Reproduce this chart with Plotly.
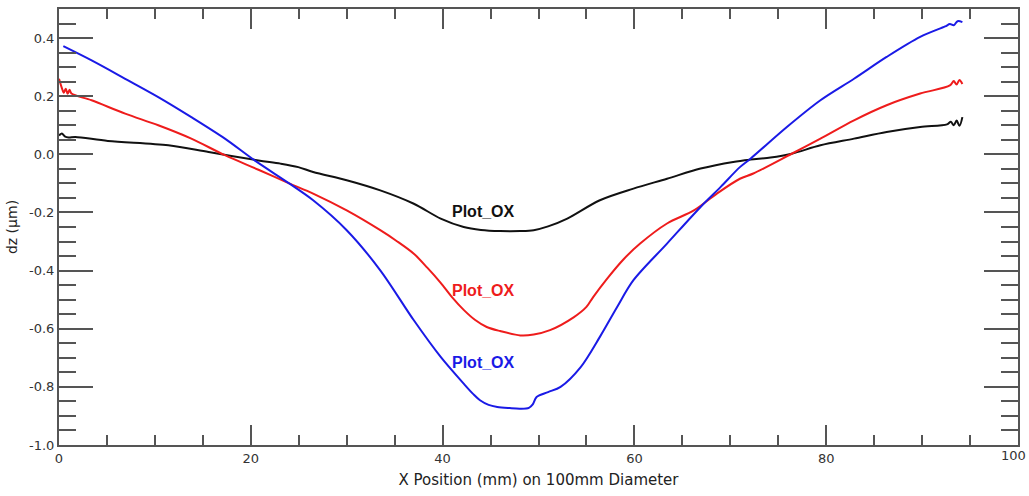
import plotly.graph_objects as go

# ---- data ----
black_x = [0.0, 0.3, 0.6, 1.0, 1.7, 5.1, 11.4, 15.6, 20.8, 23.1, 24.95, 26.5, 30.0, 33.5, 37.0, 39.8,
           42.2, 44.0, 46.0, 48.1, 49.5, 51.0, 53.0, 56.4, 59.9, 63.4, 66.9, 70.3, 72.1, 74.2, 76.4,
           79.4, 82.9, 86.3, 89.8, 92.6, 93.0, 93.3, 93.6, 93.9, 94.2]
black_y = [0.065, 0.072, 0.062, 0.058, 0.060, 0.046, 0.031, 0.008, -0.021, -0.032, -0.044, -0.061,
           -0.089, -0.124, -0.170, -0.221, -0.250, -0.260, -0.264, -0.264, -0.261, -0.248, -0.221,
           -0.158, -0.118, -0.084, -0.049, -0.026, -0.018, -0.011, 0.002, 0.031, 0.054, 0.077, 0.094,
           0.103, 0.112, 0.100, 0.116, 0.098, 0.128]

red_x = [0.0, 0.3, 0.5, 0.7, 0.9, 1.1, 1.3, 3.4, 6.9, 10.35, 13.8, 17.3, 20.8, 24.0, 26.5, 30.0,
         33.5, 35.2, 37.0, 38.4, 39.8, 41.0, 42.2, 43.4, 44.6, 46.0, 48.1, 49.5, 51.2, 53.7, 55.0,
         55.7, 57.1, 58.9, 60.6, 63.4, 66.2, 68.6, 71.0, 72.4, 76.4, 79.4, 82.9, 86.3, 89.8, 92.9,
         93.3, 93.6, 93.9, 94.2]
red_y = [0.26, 0.228, 0.212, 0.226, 0.208, 0.222, 0.209, 0.186, 0.140, 0.100, 0.054, -0.003, -0.053,
         -0.100, -0.135, -0.193, -0.261, -0.298, -0.342, -0.390, -0.442, -0.492, -0.535, -0.570,
         -0.594, -0.608, -0.623, -0.620, -0.605, -0.560, -0.525, -0.491, -0.430, -0.360, -0.307,
         -0.238, -0.193, -0.135, -0.084, -0.066, 0.002, 0.054, 0.117, 0.169, 0.209, 0.237, 0.252,
         0.240, 0.256, 0.242]

blue_x = [0.45, 3.4, 6.9, 10.35, 13.8, 17.3, 20.4, 24.0, 26.5, 30.0, 33.5, 37.0, 39.8, 42.2, 43.2,
          43.9, 44.8, 45.7, 47.0, 48.1, 49.0, 49.4, 49.8, 51.0, 52.3, 54.4, 56.4, 58.2, 59.9, 63.4,
          66.9, 69.0, 71.0, 72.1, 75.9, 79.4, 82.9, 86.3, 89.8, 92.4, 92.9, 93.3, 93.7, 94.2]
blue_y = [0.372, 0.323, 0.260, 0.197, 0.128, 0.054, -0.021, -0.100, -0.158, -0.261, -0.399, -0.571,
          -0.697, -0.789, -0.825, -0.846, -0.862, -0.869, -0.873, -0.875, -0.872, -0.860, -0.835,
          -0.818, -0.800, -0.732, -0.628, -0.525, -0.433, -0.307, -0.181, -0.112, -0.044, -0.015,
          0.094, 0.186, 0.260, 0.335, 0.404, 0.440, 0.448, 0.444, 0.458, 0.455]

x_tickvals = [0, 20, 40, 60, 80, 100]
x_ticktext = ["0", "20", "40", "60", "80", ""]
x_last_label = "100"
y_tickvals = [-1.0, -0.8, -0.6, -0.4, -0.2, 0.0, 0.2, 0.4]
y_ticktext = ["-1.0", "-0.8", "-0.6", "-0.4", "-0.2", "0.0", "0.2", "0.4"]

labels = ["Plot_OX", "Plot_OX", "Plot_OX"]
label_x = [44.3, 44.3, 44.3]
label_y = [-0.196, -0.468, -0.716]

colors = ["#111111", "#ee1c1c", "#1a1ae6"]
tick_font = dict(family="DejaVu Sans", size=13, color="#333333")

fig = go.Figure()
for xs, ys, c in [(black_x, black_y, colors[0]), (red_x, red_y, colors[1]), (blue_x, blue_y, colors[2])]:
    fig.add_trace(go.Scatter(x=xs, y=ys, mode="lines",
                             line=dict(color=c, width=2, shape="spline", smoothing=0.9),
                             showlegend=False, hoverinfo="skip"))

for t, lx, ly, c in zip(labels, label_x, label_y, colors):
    fig.add_annotation(x=lx, y=ly, text="<b>%s</b>" % t, showarrow=False,
                       font=dict(family="Liberation Sans, Arial", size=16, color=c),
                       xanchor="center", yanchor="middle")

# last x tick label, nudged left so it stays inside the page
fig.add_annotation(x=x_tickvals[-1], xref="x", y=0, yref="paper", text=x_last_label,
                   showarrow=False, xanchor="center", yanchor="top", xshift=-5, yshift=-1,
                   font=tick_font)

axis_col = "#555555"
fig.update_xaxes(range=[0, 100], tickmode="array", tickvals=x_tickvals, ticktext=x_ticktext,
                 ticks="inside", ticklen=20, tickwidth=1.5, tickcolor=axis_col,
                 minor=dict(dtick=5, tick0=0, ticks="inside", ticklen=10, tickwidth=1.5, tickcolor=axis_col),
                 showline=True, linecolor=axis_col, linewidth=2, mirror="allticks",
                 showgrid=False, zeroline=False, automargin=False,
                 tickfont=tick_font,
                 title=dict(text="X Position (mm) on 100mm Diameter",
                            font=dict(family="DejaVu Sans", size=15, color="#222222"), standoff=10))
fig.update_yaxes(range=[-1.0, 0.5], tickmode="array", tickvals=y_tickvals, ticktext=y_ticktext,
                 ticks="inside", ticklen=34, tickwidth=1.5, tickcolor=axis_col,
                 minor=dict(dtick=0.05, tick0=0, ticks="inside", ticklen=17, tickwidth=1.5, tickcolor=axis_col),
                 showline=True, linecolor=axis_col, linewidth=2, mirror="allticks",
                 showgrid=False, zeroline=False, automargin=False,
                 tickfont=tick_font,
                 title=dict(text="dz (µm)", font=dict(family="DejaVu Sans", size=14, color="#222222"),
                            standoff=8))

fig.update_layout(width=1029, height=496, margin=dict(l=59, r=11, t=9, b=51),
                  paper_bgcolor="white", plot_bgcolor="white")

fig.write_html("out.html")
